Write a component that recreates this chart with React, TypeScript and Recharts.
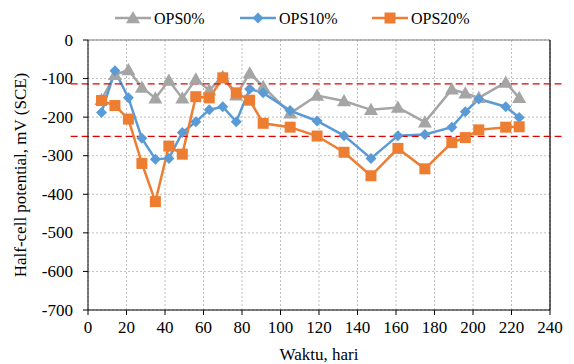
import React from "react";
import {
  LineChart,
  Line,
  XAxis,
  YAxis,
  CartesianGrid,
  ReferenceLine,
} from "recharts";

// days of measurement
const days = [7, 14, 21, 28, 35, 42, 49, 56, 63, 70, 77, 84, 91, 105, 119, 133, 147, 161, 175, 189, 196, 203, 217, 224];

const ops0 = [-155, -90, -78, -123, -151, -105, -151, -102, -130, -95, -143, -86, -121, -190, -144, -158, -181, -175, -213, -128, -138, -150, -110, -150];
const ops10 = [-188, -80, -150, -255, -309, -307, -240, -212, -181, -173, -212, -127, -137, -183, -210, -248, -307, -248, -245, -226, -186, -153, -173, -201];
const ops20 = [-157, -170, -205, -320, -419, -275, -296, -147, -150, -98, -137, -156, -216, -226, -249, -291, -352, -281, -334, -266, -253, -233, -226, -225];

const xTicks = [0, 20, 40, 60, 80, 100, 120, 140, 160, 180, 200, 220, 240];
const yTicks = [0, -100, -200, -300, -400, -500, -600, -700];

// threshold lines
const limits = [-114, -250];

const data = days.map((d, i) => ({
  day: d,
  ops0: ops0[i],
  ops10: ops10[i],
  ops20: ops20[i],
}));

const GRAY = "#A5A5A5";
const BLUE = "#5B9BD5";
const ORANGE = "#ED7D31";
const FONT = "Liberation Serif";

const Triangle = (props: any) => {
  const { cx, cy, fill } = props;
  if (cx == null || cy == null) return null;
  const s = 7;
  return <polygon points={`${cx},${cy - s} ${cx + s},${cy + s * 0.75} ${cx - s},${cy + s * 0.75}`} fill={fill} />;
};

const Diamond = (props: any) => {
  const { cx, cy, fill } = props;
  if (cx == null || cy == null) return null;
  const s = 5.5;
  return <polygon points={`${cx},${cy - s} ${cx + s},${cy} ${cx},${cy + s} ${cx - s},${cy}`} fill={fill} />;
};

const Square = (props: any) => {
  const { cx, cy, fill } = props;
  if (cx == null || cy == null) return null;
  const s = 5.5;
  return <rect x={cx - s} y={cy - s} width={s * 2} height={s * 2} fill={fill} />;
};

const legendItems = [
  { name: "OPS0%", color: GRAY, Shape: Triangle, x: 115 },
  { name: "OPS10%", color: BLUE, Shape: Diamond, x: 240 },
  { name: "OPS20%", color: ORANGE, Shape: Square, x: 372 },
];

const XTick = (props: any) => {
  const { x, y, payload } = props;
  return (
    <text x={x} y={y + 12} textAnchor="middle" fontFamily={FONT} fontSize={17} fill="#000">
      {payload.value}
    </text>
  );
};

const YTick = (props: any) => {
  const { x, y, payload } = props;
  return (
    <text x={x} y={y + 5.5} textAnchor="end" fontFamily={FONT} fontSize={17} fill="#000">
      {payload.value}
    </text>
  );
};

export default function App() {
  return (
    <div style={{ position: "absolute", left: 0, top: 0, width: 574, height: 364, background: "#fff" }}>
      {/* legend drawn on its own so it does not push the plot down */}
      <svg width={574} height={30} style={{ position: "absolute", left: 0, top: 3 }}>
        {legendItems.map((it) => (
          <g key={it.name}>
            <line x1={it.x} x2={it.x + 36} y1={15} y2={15} stroke={it.color} strokeWidth={2.5} />
            <it.Shape cx={it.x + 18} cy={15} fill={it.color} />
            <text x={it.x + 39} y={20.5} fontSize={16} fontFamily={FONT} fill="#000">
              {it.name}
            </text>
          </g>
        ))}
      </svg>
      <LineChart
        width={574}
        height={364}
        data={data}
        margin={{ top: 40, right: 24, left: 0, bottom: 0 }}
      >
        <CartesianGrid stroke="#BFBFBF" strokeDasharray="2 2" />
        <XAxis
          dataKey="day"
          type="number"
          domain={[0, 240]}
          ticks={xTicks}
          height={54}
          stroke="#000"
          tickSize={5}
          tickMargin={6}
          tick={<XTick />}
          label={{
            value: "Waktu, hari",
            position: "insideBottom",
            offset: 4,
            fill: "#000",
            fontSize: 17,
            fontFamily: FONT,
          }}
        />
        <YAxis
          type="number"
          domain={[-700, 0]}
          ticks={yTicks}
          width={88}
          stroke="#000"
          tickSize={5}
          tickMargin={10}
          tick={<YTick />}
          label={{
            value: "Half-cell potential, mV (SCE)",
            angle: -90,
            position: "insideLeft",
            offset: 20,
            style: { textAnchor: "middle" },
            fill: "#000",
            fontSize: 17,
            fontFamily: FONT,
          }}
        />
        <ReferenceLine y={0} stroke="#7F7F7F" strokeWidth={1.2} />
        <ReferenceLine x={240} stroke="#000" strokeWidth={1.2} />
        <Line
          dataKey="ops0"
          stroke={GRAY}
          strokeWidth={2.5}
          dot={<Triangle fill={GRAY} />}
          activeDot={false}
          isAnimationActive={false}
        />
        <Line
          dataKey="ops10"
          stroke={BLUE}
          strokeWidth={2.5}
          dot={<Diamond fill={BLUE} />}
          activeDot={false}
          isAnimationActive={false}
        />
        <Line
          dataKey="ops20"
          stroke={ORANGE}
          strokeWidth={2.5}
          dot={<Square fill={ORANGE} />}
          activeDot={false}
          isAnimationActive={false}
        />
        {limits.map((v) => (
          <ReferenceLine
            key={v}
            segment={[{ x: -9, y: v }, { x: 246, y: v }]}
            ifOverflow="visible"
            stroke="#E00000"
            strokeWidth={1.3}
            strokeDasharray="7 4"
          />
        ))}
      </LineChart>
    </div>
  );
}
